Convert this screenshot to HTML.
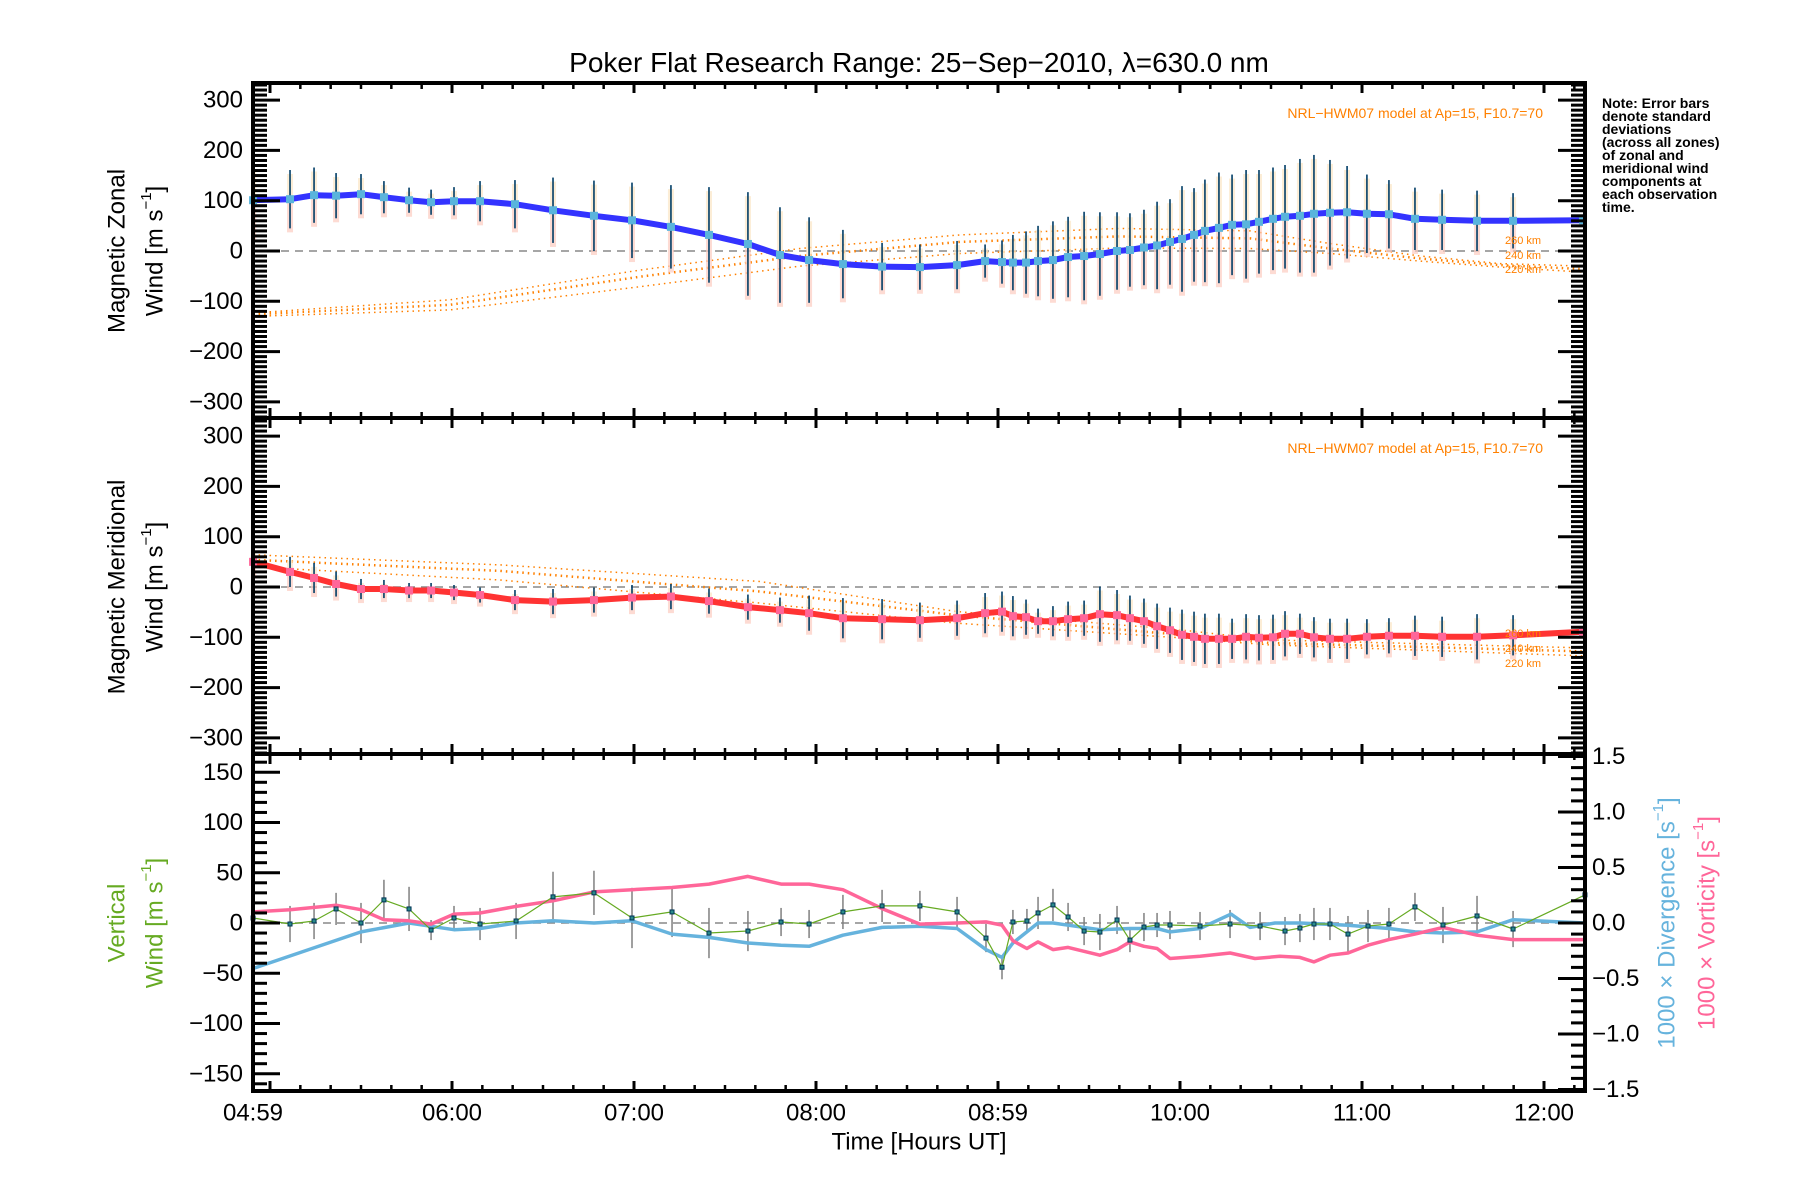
<!DOCTYPE html>
<html><head><meta charset="utf-8"><title>Poker Flat winds</title>
<style>
html,body{margin:0;padding:0;background:#fff;}
svg{display:block;font-family:"Liberation Sans",sans-serif;}
</style></head>
<body>
<svg id="chart" width="1800" height="1200" viewBox="0 0 1800 1200" xmlns="http://www.w3.org/2000/svg">
<rect width="1800" height="1200" fill="#fff"/>
<text x="919" y="72" font-size="28" text-anchor="middle">Poker Flat Research Range: 25−Sep−2010, λ=630.0 nm</text>
<g id="layer"></g>
</svg>
<script>
// ---- data ----
const obsTimes = [4.907,5.110,5.242,5.363,5.500,5.626,5.764,5.885,6.011,6.154,6.346,6.555,6.780,6.989,7.203,7.412,7.626,
7.802,7.962,8.148,8.363,8.571,8.775,8.929,9.022,9.082,9.154,9.220,9.302,9.385,9.473,9.560,9.654,9.725,9.802,9.874,9.945,10.011,10.077,10.137,10.214,10.286,10.363,10.434,10.511,
10.577,10.659,10.736,10.824,10.918,11.027,11.148,11.291,11.440,11.632,11.830,12.214];
const zonalWind = [101,103,111,110,113,107,101,97,99,99,93,81,70,61,48,32,14,
-8,-18,-26,-31,-32,-28,-20,-22,-23,-23,-20,-18,-12,-10,-6,0,2,7,11,18,24,32,40,46,52,53,58,64,
68,70,74,76,77,74,73,64,62,60,60,61];
const zonalStd = [70,58,55,45,40,32,25,25,28,40,48,65,70,75,83,95,103,
95,85,68,47,45,48,33,43,55,62,70,77,80,88,83,77,73,75,87,85,105,93,102,110,100,108,103,102,
103,113,117,105,92,78,68,62,60,60,55,0];
const meridWind = [50,30,18,6,-4,-4,-7,-7,-11,-16,-26,-29,-26,-21,-19,-28,-40,
-46,-52,-62,-64,-66,-62,-52,-49,-58,-60,-68,-68,-64,-62,-54,-56,-62,-68,-78,-86,-95,-99,-103,-103,-103,-99,-101,-100,
-93,-93,-100,-103,-103,-99,-97,-97,-99,-99,-96,-89];
const meridStd = [25,30,30,25,20,18,15,15,15,15,20,25,25,25,25,25,25,
25,35,40,40,35,35,40,40,40,35,25,30,35,35,55,50,45,45,45,45,50,50,50,50,40,45,45,45,
45,40,40,40,40,35,35,40,40,45,40,0];
const modelTimesZ = [4.907,5.989,7.033,7.912,8.791,9.670,10.385,10.824,11.319,11.758,12.214];
const model260Z = [-123,-97,-38,5,32,45,40,15,-10,-25,-30];
const model240Z = [-126,-107,-51,-10,18,29,25,5,-15,-28,-36];
const model220Z = [-130,-117,-71,-30,-5,6,5,-5,-20,-32,-42];
const modelTimesM = [4.907,6.264,7.692,8.775,9.999,10.484,12.214];
const model260M = [64,44,11,-49,-85,-105,-121];
const model240M = [54,32,-9,-56,-95,-111,-128];
const model220M = [40,14,-32,-72,-101,-115,-137];
const vertTimes = [4.907,5.110,5.242,5.363,5.500,5.626,5.764,5.885,6.011,6.154,6.352,6.555,6.780,6.989,7.209,7.412,7.626,7.808,7.962,8.148,8.363,8.571,8.775,8.934,9.022,9.082,9.159,9.220,9.302,9.385,9.473,9.560,9.654,9.725,9.802,9.874,9.945,10.110,10.275,10.440,10.577,10.659,10.736,10.824,10.923,11.033,11.148,11.291,11.445,11.632,11.830,12.225];
const vertWind = [5,-1,2,14,0,23,14,-7,5,-1,2,26,30,5,11,-10,-8,1,-1,11,17,17,11,-15,-44,1,2,10,18,6,-8,-9,3,-17,-4,-2,-2,-3,-1,-3,-8,-5,-1,-1,-11,-3,-1,16,-2,7,-6,28];
const vertStd = [0,18,18,16,20,20,22,10,12,16,18,25,22,30,25,25,20,14,14,17,16,15,15,14,12,12,12,16,16,14,14,18,14,12,14,12,14,14,14,14,14,14,16,16,18,16,16,14,18,20,18,0];
const divTimes = [4.907,5.500,5.764,5.885,6.011,6.154,6.352,6.555,6.780,6.989,7.209,7.412,7.626,7.808,7.962,8.148,8.363,8.571,8.775,8.934,9.022,9.082,9.220,9.302,9.385,9.560,9.725,9.874,9.945,10.110,10.280,10.385,10.522,10.659,10.923,11.148,11.291,11.445,11.632,11.830,12.225];
const divergence = [-0.41,-0.08,0.0,-0.03,-0.06,-0.05,0.0,0.02,0.0,0.02,-0.10,-0.13,-0.18,-0.20,-0.21,-0.11,-0.04,-0.03,-0.05,-0.24,-0.31,-0.18,0.0,0.0,-0.02,-0.06,-0.05,-0.05,-0.08,-0.05,0.08,-0.04,0.0,0.0,-0.02,-0.05,-0.08,-0.09,-0.08,0.03,0.0];
const vortTimes = [4.907,5.110,5.363,5.500,5.626,5.764,5.885,6.011,6.154,6.352,6.555,6.780,6.989,7.209,7.412,7.626,7.808,7.962,8.148,8.363,8.571,8.775,8.934,9.022,9.082,9.159,9.220,9.302,9.385,9.560,9.654,9.725,9.802,9.874,9.945,10.110,10.275,10.412,10.549,10.659,10.736,10.824,10.923,11.033,11.148,11.291,11.445,11.632,11.830,12.225];
const vorticity = [0.10,0.12,0.16,0.12,0.03,0.02,-0.01,0.08,0.09,0.15,0.20,0.28,0.30,0.32,0.35,0.42,0.35,0.35,0.30,0.13,-0.01,0.0,0.01,-0.02,-0.16,-0.23,-0.17,-0.24,-0.22,-0.29,-0.24,-0.17,-0.21,-0.23,-0.32,-0.30,-0.27,-0.32,-0.30,-0.31,-0.35,-0.29,-0.27,-0.20,-0.15,-0.10,-0.04,-0.11,-0.15,-0.15];
const xTickHours = [5,6,7,8,9,10,11,12];
const xTickLabels = ["04:59","06:00","07:00","08:00","08:59","10:00","11:00","12:00"];
const windTicks = [300,200,100,0,-100,-200,-300];
const vertTicks = [150,100,50,0,-50,-100,-150];
const rightTicks = [1.5,1.0,0.5,0.0,-0.5,-1.0,-1.5];

// ---- geometry ----
const L=253, R=1585, T0=4.907, T1=12.225;
const P1T=83, P2T=418, P3T=754, P3B=1091;
const X = t => 452 + (t-6)*182;
const Y1 = v => 251 - v*0.503;
const Y2 = v => 587 - v*0.503;
const Y3L = v => 923 - v*1.005;
const Y3R = v => 923 - v*111;
const NS="http://www.w3.org/2000/svg";
const layer=document.getElementById('layer');
function mk(tag, attrs, parent){const e=document.createElementNS(NS,tag);for(const k in attrs)e.setAttribute(k,attrs[k]);(parent||layer).appendChild(e);return e;}
function grp(name){const g=mk('g',{});return g;}
function fmt(v){const s=String(v);return s.replace('-','−');}

const defs=mk('defs',{});
[[P1T,P2T,'c1'],[P2T,P3T,'c2'],[P3T,P3B,'c3']].forEach(a=>{const c=mk('clipPath',{id:a[2]},defs);mk('rect',{x:L,y:a[0],width:R-L,height:a[1]-a[0]},c);});

[[Y1(0),'zonal-zero-line'],[Y2(0),'meridional-zero-line'],[Y3L(0),'vertical-zero-line']].forEach(z=>{
 const l=mk('line',{x1:L,x2:R,y1:z[0],y2:z[0],stroke:'#888','stroke-width':1.5,'stroke-dasharray':'8,6'});
 
});

function modelLine(times,vals,yf,clip,name,w){
 const pts=times.map((t,i)=>X(t).toFixed(1)+','+yf(vals[i]).toFixed(1)).join(' ');
 const p=mk('polyline',{points:pts,fill:'none',stroke:'#ff8000','stroke-width':w,'stroke-dasharray':'1.5,4','clip-path':'url(#'+clip+')'});
 
}
modelLine(modelTimesZ,model260Z,Y1,'c1','model-260km-zonal',1.5);
modelLine(modelTimesZ,model240Z,Y1,'c1','model-240km-zonal',2.5);
modelLine(modelTimesZ,model220Z,Y1,'c1','model-220km-zonal',1.5);
modelLine(modelTimesM,model260M,Y2,'c2','model-260km-meridional',1.5);
modelLine(modelTimesM,model240M,Y2,'c2','model-240km-meridional',2.5);
modelLine(modelTimesM,model220M,Y2,'c2','model-220km-meridional',1.5);

function errBars(vals,stds,yf,clip,name){
 const g=grp(name);g.setAttribute('clip-path','url(#'+clip+')');
 obsTimes.forEach((t,i)=>{
  if(!stds[i])return;
  const x=X(t),y1=yf(vals[i]+stds[i]),y2=yf(vals[i]-stds[i]);
  const bg=mk('rect',{x:x-3,y:y1+4,width:6,height:(y2-y1)/2,fill:'#fbe6c4',opacity:0.7},g);
  
  const bg2=mk('rect',{x:x-3,y:y1+4+(y2-y1)/2,width:6,height:(y2-y1)/2,fill:'#fcccc0',opacity:0.7},g);
  
  const l=mk('line',{x1:x,x2:x,y1:y1,y2:y2,stroke:'#003d66','stroke-width':1.6},g);
  
 });
}
errBars(zonalWind,zonalStd,Y1,'c1','zonal-error-bars');
errBars(meridWind,meridStd,Y2,'c2','meridional-error-bars');

function seriesLine(times,vals,yf,color,w,name,clip){
 const pts=times.map((t,i)=>X(t).toFixed(1)+','+yf(vals[i]).toFixed(1)).join(' ');
 const p=mk('polyline',{points:pts,fill:'none',stroke:color,'stroke-width':w,'stroke-linejoin':'round','clip-path':'url(#'+clip+')'});
 
}
function markers(times,vals,yf,size,fill,stroke,name){
 const g=grp(name);
 times.forEach((t,i)=>{const r=mk('rect',{x:X(t)-size/2,y:yf(vals[i])-size/2,width:size,height:size,fill:fill,stroke:stroke,'stroke-width':stroke==='none'?0:1},g);
  });
}
seriesLine(obsTimes,zonalWind,Y1,'#3333ff',6,'zonal-wind-line','c1');
markers(obsTimes,zonalWind,Y1,8,'#5ab4dc','none','zonal-markers');
seriesLine(obsTimes,meridWind,Y2,'#ff3333',6,'meridional-wind-line','c2');
markers(obsTimes,meridWind,Y2,8,'#ff6699','none','meridional-markers');

const vg=grp('vertical-error-bars');
vertTimes.forEach((t,i)=>{if(!vertStd[i])return;const l=mk('line',{x1:X(t),x2:X(t),y1:Y3L(vertWind[i]+vertStd[i]),y2:Y3L(vertWind[i]-vertStd[i]),stroke:'#808080','stroke-width':1.5},vg);
 });
seriesLine(divTimes,divergence,Y3R,'#66b3dd',3.5,'divergence-line','c3');
seriesLine(vortTimes,vorticity,Y3R,'#ff6699',3.5,'vorticity-line','c3');
seriesLine(vertTimes,vertWind,Y3L,'#66aa22',1.2,'vertical-wind-line','c3');
markers(vertTimes,vertWind,Y3L,4,'#2a8a8a','#003355','vertical-wind-markers');

const ax=grp('axes');
function line(x1,y1,x2,y2,w,parent){return mk('line',{x1:x1,y1:y1,x2:x2,y2:y2,stroke:'#000','stroke-width':w},parent||ax);}
mk('rect',{x:L,y:P1T,width:R-L,height:P3B-P1T,fill:'none',stroke:'#000','stroke-width':4},ax);
line(L,P2T,R,P2T,4);line(L,P3T,R,P3T,4);
const xt=grp('x-ticks');
for(let m=Math.ceil(T0*6);m<=T1*6;m++){
 const x=X(m/6), major=(m%6===0), len=major?10:6;
 [P1T,P2T,P3T,P3B].forEach(y=>{
  const y1=(y===P1T)?y:y-len, y2=(y===P3B)?y:y+len;
  line(x,y1,x,y2,major?3:2.5,xt);
 });
}
function yTicks(yf,lo,hi,step,majorStep,leftOnly,rightOnly,name){
 const g=grp(name);
 for(let v=lo;v<=hi+1e-9;v+=step){
  const vv=Math.round(v*1000)/1000;const y=yf(vv);
  const major=Math.abs(Math.round(vv/majorStep)*majorStep-vv)<1e-6;const len=major?27:14;
  if(!rightOnly)line(L,y,L+len,y,3,g);
  if(!leftOnly)line(R,y,R-len,y,3,g);
 }
}
yTicks(Y1,-330,330,10,100,false,false,'zonal-y-ticks');
yTicks(Y2,-330,330,10,100,false,false,'meridional-y-ticks');
yTicks(Y3L,-160,160,10,50,true,false,'vertical-left-ticks');
yTicks(Y3R,-1.5,1.5,0.1,0.5,false,true,'vertical-right-ticks');

function tl(x,y,txt,anchor,size,name,color){const t=mk('text',{x:x,y:y,'font-size':size,'text-anchor':anchor,'dominant-baseline':'central',fill:color||'#000'});t.textContent=txt;return t;}
windTicks.forEach(v=>{tl(243,Y1(v),fmt(v),'end',24,'zonal-tick-label');tl(243,Y2(v),fmt(v),'end',24,'meridional-tick-label');});
vertTicks.forEach(v=>tl(243,Y3L(v),fmt(v),'end',24,'vertical-tick-label'));
rightTicks.forEach(v=>tl(1592,Y3R(v),fmt(v.toFixed(1)),'start',24,'right-tick-label'));
xTickHours.forEach((h,i)=>{const x=(i===0)?L:X(h);tl(x,1113,xTickLabels[i],'middle',24,'x-tick-label');});
tl(919,1142,'Time [Hours UT]','middle',24,'x-axis-title');

function rot(x,y,html,color,name){const t=mk('text',{x:0,y:0,'font-size':24,'text-anchor':'middle','dominant-baseline':'central',fill:color,transform:'translate('+x+','+y+') rotate(-90)'});t.innerHTML=html;return t;}
const sup='<tspan dy="-9" font-size="15">−1</tspan><tspan dy="9">]</tspan>';
rot(117,251,'Magnetic Zonal','#000','zonal-axis-title');
rot(155,251,'Wind [m s'+sup,'#000','zonal-axis-units');
rot(117,587,'Magnetic Meridional','#000','meridional-axis-title');
rot(155,587,'Wind [m s'+sup,'#000','meridional-axis-units');
rot(117,923,'Vertical','#66aa22','vertical-axis-title');
rot(155,923,'Wind [m s'+sup,'#66aa22','vertical-axis-units');
rot(1667,923,'1000 × Divergence [s'+sup,'#66b3dd','divergence-axis-title');
rot(1707,923,'1000 × Vorticity [s'+sup,'#ff6699','vorticity-axis-title');

tl(1543,113,'NRL−HWM07 model at Ap=15, F10.7=70','end',14,'model-label-zonal','#ff8000');
tl(1543,448,'NRL−HWM07 model at Ap=15, F10.7=70','end',14,'model-label-meridional','#ff8000');
[['260 km',241],['240 km',256],['220 km',270]].forEach(a=>tl(1523,a[1],a[0],'middle',11,'altitude-label-zonal','#ff8000'));
[['260 km',634],['240 km',649],['220 km',664]].forEach(a=>tl(1523,a[1],a[0],'middle',11,'altitude-label-meridional','#ff8000'));

const note=["Note: Error bars","denote standard","deviations","(across all zones)","of zonal and","meridional wind","components at","each observation","time."];
note.forEach((s,i)=>{const t=mk('text',{x:1602,y:108+i*13,'font-size':14,'font-weight':'bold'});t.textContent=s;});
</script>
</body></html>
